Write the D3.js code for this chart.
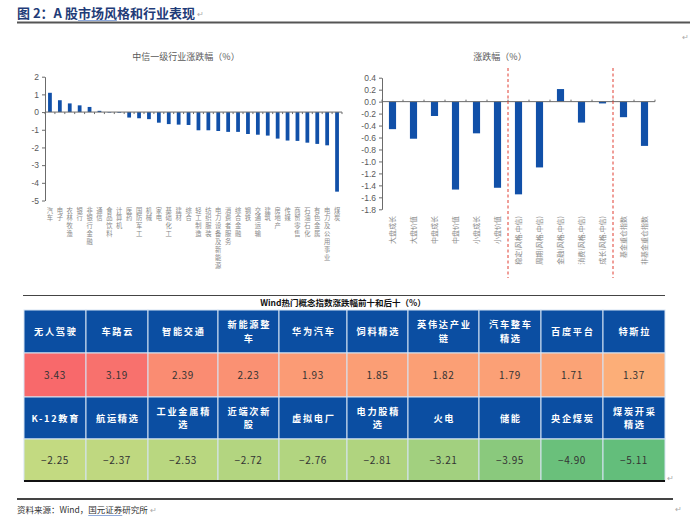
<!DOCTYPE html>
<html><head><meta charset="utf-8">
<script src="https://cdn.jsdelivr.net/npm/d3@7"></script>
<style>
html,body{margin:0;padding:0;background:#fff;}
svg{display:block;font-family:"Noto Sans CJK SC","Noto Sans",sans-serif;}
.vlab{writing-mode:vertical-rl;text-orientation:upright;}
</style></head>
<body>
<script>
// ---------- data ----------
const leftCats = ["汽车","电子","农林牧渔","银行","非银行金融","通信","食品饮料","计算机","医药","国防军工","机械","家电","基础化工","建材","综合","轻工制造","纺织服装","电力设备及新能源","消费者服务","综合金融","钢铁","交通运输","建筑","房地产","传媒","商贸零售","石油石化","有色金属","电力及公用事业","煤炭"];
const leftVals = [1.09,0.67,0.49,0.38,0.29,0.07,-0.03,-0.04,-0.31,-0.35,-0.40,-0.60,-0.68,-0.71,-0.73,-1.03,-1.03,-1.07,-1.12,-1.12,-1.24,-1.28,-1.33,-1.50,-1.61,-1.63,-1.73,-1.80,-1.88,-4.50];
const leftTicks = [2,1,0,-1,-2,-3,-4,-5];

const rightCats = ["大盘成长","大盘价值","中盘成长","中盘价值","小盘成长","小盘价值","稳定(风格.中信)","周期(风格.中信)","金融(风格.中信)","消费(风格.中信)","成长(风格.中信)","基金重仓指数","非基金重仓指数"];
const rightVals = [-0.46,-0.62,-0.24,-1.47,-0.53,-1.44,-1.55,-1.10,0.21,-0.35,-0.03,-0.26,-0.74];
const rightTicks = [0.4,0.2,0,-0.2,-0.4,-0.6,-0.8,-1.0,-1.2,-1.4,-1.6,-1.8];
const dividerAfter = [6,11];

const topNames = [["无人驾驶"],["车路云"],["智能交通"],["新能源整","车"],["华为汽车"],["饲料精选"],["英伟达产业","链"],["汽车整车","精选"],["百度平台"],["特斯拉"]];
const topVals = [3.43,3.19,2.39,2.23,1.93,1.85,1.82,1.79,1.71,1.37];
const bottomNames = [["K-12教育"],["航运精选"],["工业金属精","选"],["近端次新","股"],["虚拟电厂"],["电力股精","选"],["火电"],["储能"],["央企煤炭"],["煤炭开采","精选"]];
const bottomVals = [-2.25,-2.37,-2.53,-2.72,-2.76,-2.81,-3.21,-3.95,-4.90,-5.11];

// ---------- layout ----------
const W = 700, H = 526;
const svg = d3.select("body").append("svg").attr("width", W).attr("height", H);
const blue = "#1150a8", axisCol = "#6b6b6b", txtCol = "#595959";
const para = (x,y)=>svg.append("text").attr("x",x).attr("y",y).attr("font-size",8).attr("fill","#aaa").text("↵");

// header title
const title = svg.append("text").attr("x",17).attr("y",18).attr("font-size",13).attr("font-weight","bold")
  .attr("fill","#1f3c78").text("图 2：A 股市场风格和行业表现");
{
  const el = title.node();
  const s = el.getStartPositionOfChar(7).x, len = el.getSubStringLength(7,3);
  svg.append("line").attr("x1",s).attr("x2",s+len).attr("y1",20.5).attr("y2",20.5).attr("stroke","#8ea9db").attr("stroke-width",1);
  para(17 + el.getComputedTextLength() + 2, 17);
}
svg.append("line").attr("x1",17).attr("x2",690).attr("y1",22.5).attr("y2",22.5).attr("stroke","#555").attr("stroke-width",2);
para(682,40);

// ---------- left chart ----------
{
  const x0 = 45, x1 = 342;
  const p = 0.62;
  const x = d3.scaleBand().domain(leftCats).range([x0,x1]).paddingInner(p).paddingOuter(p/2);
  const y = d3.scaleLinear().domain([-5,2]).range([200.5,76.7]);
  const g = svg.append("g");
  g.append("text").attr("x",186).attr("y",60).attr("text-anchor","middle").attr("font-size",9).attr("fill",txtCol)
    .text("中信一级行业涨跌幅（%）");
  g.selectAll("rect").data(leftVals).join("rect")
    .attr("x",(d,i)=>x(leftCats[i])).attr("width",x.bandwidth())
    .attr("y",d=>y(Math.max(0,d))).attr("height",d=>Math.abs(y(d)-y(0)))
    .attr("fill",blue);
  const ax = g.append("g").attr("transform",`translate(${x0},0)`)
    .call(d3.axisLeft(y).tickValues(leftTicks).tickSize(3).tickSizeOuter(0).tickFormat(d=>String(d)));
  ax.select(".domain").attr("stroke",axisCol);
  ax.selectAll(".tick line").attr("stroke",axisCol);
  ax.selectAll(".tick text").attr("font-size",8.5).attr("fill",txtCol).attr("font-family","Liberation Sans, Arial, sans-serif").attr("x",-6);
  // category axis
  g.append("line").attr("x1",x0).attr("x2",x1).attr("y1",y(0)).attr("y2",y(0)).attr("stroke",axisCol);
  g.selectAll("line.ct").data(d3.range(leftCats.length+1)).join("line").attr("class","ct")
    .attr("x1",k=>x0+k*x.step()).attr("x2",k=>x0+k*x.step()).attr("y1",y(0)).attr("y2",y(0)+2).attr("stroke",axisCol);
  // vertical labels (upright characters, top-to-bottom)
  g.selectAll("text.vlab").data(leftCats).join("text").attr("class","vlab")
    .attr("x",d=>x(d)+x.bandwidth()/2).attr("y",207)
    .attr("font-size",6.3).attr("letter-spacing",1.6).attr("fill","#8a8a8a").text(d=>d);
}

// ---------- right chart ----------
{
  const x0 = 382, x1 = 655;
  const p = 0.66;
  const x = d3.scaleBand().domain(rightCats).range([x0,x1]).paddingInner(p).paddingOuter(p/2);
  const y = d3.scaleLinear().domain([-1.8,0.4]).range([209.3,77.7]);
  const g = svg.append("g");
  g.append("text").attr("x",500).attr("y",60).attr("text-anchor","middle").attr("font-size",9).attr("fill",txtCol)
    .text("涨跌幅（%）");
  g.selectAll("rect").data(rightVals).join("rect")
    .attr("x",(d,i)=>x(rightCats[i])).attr("width",x.bandwidth())
    .attr("y",d=>y(Math.max(0,d))).attr("height",d=>Math.abs(y(d)-y(0)))
    .attr("fill",blue);
  const ax = g.append("g").attr("transform",`translate(${x0},0)`)
    .call(d3.axisLeft(y).tickValues(rightTicks).tickSize(3).tickSizeOuter(0).tickFormat(d=>d.toFixed(1)));
  ax.select(".domain").attr("stroke",axisCol);
  ax.selectAll(".tick line").attr("stroke",axisCol);
  ax.selectAll(".tick text").attr("font-size",8.5).attr("fill",txtCol).attr("font-family","Liberation Sans, Arial, sans-serif").attr("x",-6);
  g.append("line").attr("x1",x0).attr("x2",x1).attr("y1",y(0)).attr("y2",y(0)).attr("stroke",axisCol);
  g.selectAll("line.ct").data(d3.range(rightCats.length+1)).join("line").attr("class","ct")
    .attr("x1",k=>x0+k*x.step()).attr("x2",k=>x0+k*x.step()).attr("y1",y(0)-2).attr("y2",y(0)).attr("stroke",axisCol);
  // dashed dividers
  g.selectAll("line.dv").data(dividerAfter).join("line").attr("class","dv")
    .attr("x1",k=>x0+k*x.step()).attr("x2",k=>x0+k*x.step()).attr("y1",68).attr("y2",278)
    .attr("stroke","#e03c31").attr("stroke-width",1).attr("stroke-dasharray","3,2.5");
  // rotated labels
  g.selectAll("text.cl").data(rightCats).join("text").attr("class","cl")
    .attr("transform",d=>`translate(${x(d)+x.bandwidth()/2+2.5},216) rotate(-90)`)
    .attr("text-anchor","end").attr("font-size",7).attr("fill","#8a8a8a").text(d=>d);
}

// ---------- table ----------
{
  const tx0 = 24, tx1 = 665;
  const colW = [62,62,70,61,68,61,71,62,62,62];
  const colX = [tx0]; colW.forEach(w=>colX.push(colX[colX.length-1]+w));
  const rowY = [310,353,397,439,481];
  const allVals = topVals.concat(bottomVals);
  const color = d3.scaleLinear()
    .domain([d3.min(allVals), d3.median(allVals), d3.max(allVals)])
    .range(["#63be7b","#ffeb84","#f8696b"]);

  svg.append("line").attr("x1",23).attr("x2",tx1).attr("y1",295.5).attr("y2",295.5).attr("stroke","#444").attr("stroke-width",1);
  svg.append("text").attr("x",343).attr("y",306).attr("text-anchor","middle").attr("font-size",8.5).attr("font-weight","bold")
    .attr("fill","#111").text("Wind热门概念指数涨跌幅前十和后十（%）");

  const rows = [
    {type:"h", data:topNames},
    {type:"v", data:topVals},
    {type:"h", data:bottomNames},
    {type:"v", data:bottomVals}
  ];
  rows.forEach((r,ri)=>{
    const y0 = rowY[ri], h = rowY[ri+1]-rowY[ri];
    const g = svg.append("g");
    r.data.forEach((d,ci)=>{
      const x = colX[ci], w = colW[ci];
      g.append("rect").attr("x",x).attr("y",y0).attr("width",w).attr("height",h)
        .attr("fill", r.type==="h" ? "#0b4ea2" : color(d))
        .attr("stroke","#d6e3f3").attr("stroke-width",1);
      if (r.type==="h") {
        const n = d.length, lh = 13.5;
        const t = g.append("text").attr("text-anchor","middle").attr("font-size",9.2).attr("font-weight","bold")
          .attr("fill","#fff").attr("letter-spacing",1.7);
        d.forEach((line,li)=>{
          t.append("tspan").attr("x",x+w/2+0.8).attr("y",y0+h/2+3.5 + (li-(n-1)/2)*lh).text(line);
        });
      } else {
        g.append("text").attr("x",x+w/2).attr("y",y0+h/2+4).attr("text-anchor","middle").attr("font-size",10)
          .attr("fill","#333").attr("letter-spacing",0.6).text(d3.format(".2f")(d));
      }
    });
  });
  svg.append("line").attr("x1",tx0).attr("x2",tx1).attr("y1",481).attr("y2",481).attr("stroke","#111").attr("stroke-width",2);
  para(667,481);
}

// ---------- footer ----------
svg.append("line").attr("x1",17).attr("x2",673).attr("y1",499).attr("y2",499).attr("stroke","#444").attr("stroke-width",2);
const src = svg.append("text").attr("x",17).attr("y",513).attr("font-size",8.5).attr("fill","#333").text("资料来源：Wind，国元证券研究所");
{
  const el = src.node();
  const s = el.getStartPositionOfChar(10).x, len = el.getSubStringLength(10,4);
  svg.append("line").attr("x1",s).attr("x2",s+len).attr("y1",515.5).attr("y2",515.5).attr("stroke","#8ea9db").attr("stroke-width",1);
  para(17 + el.getComputedTextLength() + 2, 513);
}
para(675,512);
</script>
</body></html>
